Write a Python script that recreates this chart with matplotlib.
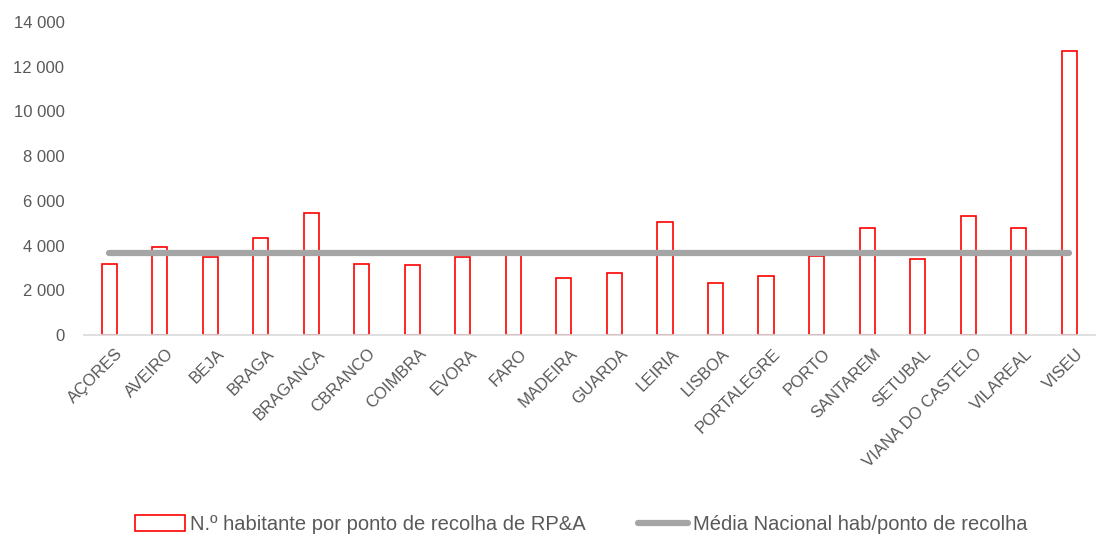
import matplotlib
matplotlib.use("Agg")
import matplotlib.pyplot as plt
import matplotlib.transforms as mtransforms
from matplotlib.ticker import FuncFormatter
from matplotlib.patches import Patch
from matplotlib.lines import Line2D

# Dados
districts = ["AÇORES", "AVEIRO", "BEJA", "BRAGA", "BRAGANCA", "CBRANCO", "COIMBRA",
             "EVORA", "FARO", "MADEIRA", "GUARDA", "LEIRIA", "LISBOA", "PORTALEGRE",
             "PORTO", "SANTAREM", "SETUBAL", "VIANA DO CASTELO", "VILAREAL", "VISEU"]
hab_per_point = [3180, 3930, 3510, 4350, 5460, 3170, 3140, 3470, 3680, 2540,
                 2790, 5070, 2320, 2660, 3540, 4800, 3410, 5340, 4780, 12700]
national_avg = 3660

plt.rcParams['font.family'] = ['Liberation Sans', 'DejaVu Sans']

fig = plt.figure(figsize=(11.18, 5.36), dpi=100)
ax = fig.add_axes([0.075, 0.375, 0.904, 0.584])

x = list(range(len(districts)))
ax.bar(x, hab_per_point, width=0.3, facecolor='white', edgecolor='#ff0000', linewidth=1.2, zorder=2)
ax.plot(x, [national_avg] * len(x), color='#a5a5a5', linewidth=4.5, solid_capstyle='round', zorder=3)

ax.set_xlim(-0.5, len(x) - 0.5)
ax.set_ylim(0, 14000)
ax.set_yticks(range(0, 14001, 2000))
ax.yaxis.set_major_formatter(FuncFormatter(lambda v, p: f"{int(v):,}".replace(",", " ")))
ax.set_xticks(x)
ax.set_xticklabels(districts, rotation=45, ha='right', rotation_mode='anchor')
ax.tick_params(axis='both', length=0, colors='#595959', labelsize=12)
ax.tick_params(axis='x', pad=8)
ax.tick_params(axis='y', pad=14)

# desloca um pouco os rótulos para a direita, como no Excel
offset = mtransforms.ScaledTranslation(6 / 100, 0, fig.dpi_scale_trans)
for lbl in ax.get_xticklabels():
    lbl.set_transform(lbl.get_transform() + offset)

for s in ['top', 'right', 'left']:
    ax.spines[s].set_visible(False)
ax.spines['bottom'].set_color('#d9d9d9')
ax.spines['bottom'].set_linewidth(1.2)

handles = [Patch(facecolor='white', edgecolor='#ff0000', linewidth=1.2),
           Line2D([], [], color='#a5a5a5', linewidth=4.5, solid_capstyle='round')]
labels = ["N.º habitante por ponto de recolha de RP&A", "Média Nacional hab/ponto de recolha"]
leg = fig.legend(handles, labels, loc='center', bbox_to_anchor=(0.52, 0.021), ncol=2,
                 frameon=False, fontsize=14.5, handlelength=2.5, handleheight=0.85,
                 handletextpad=0.25, columnspacing=2.6)
for t in leg.get_texts():
    t.set_color('#595959')

fig.savefig("out.png", dpi=100)
